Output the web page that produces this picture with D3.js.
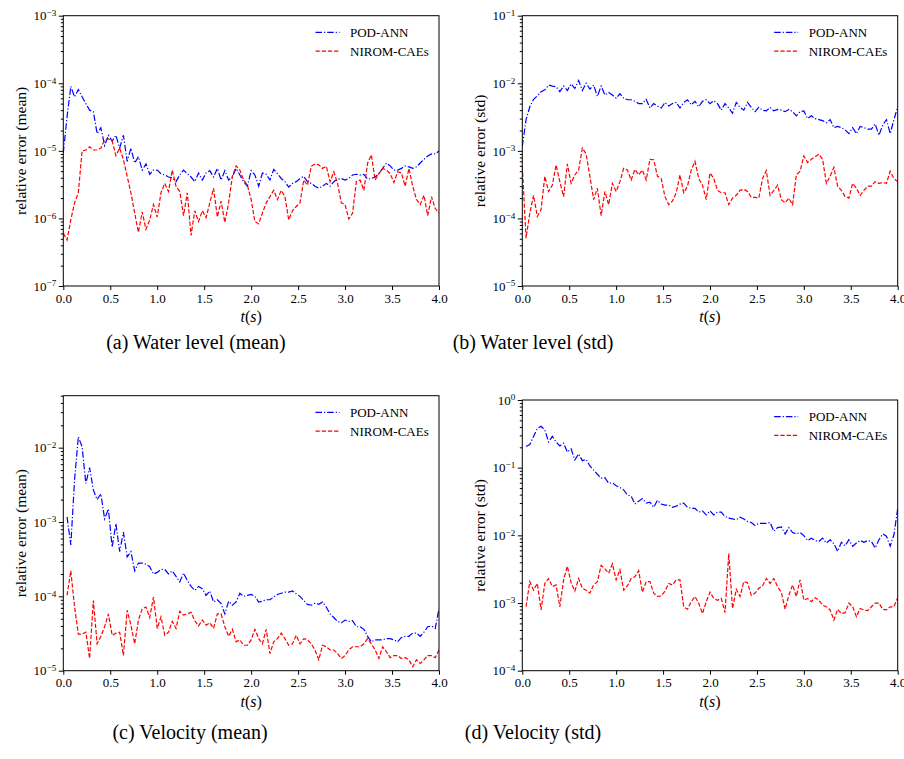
<!DOCTYPE html>
<html><head><meta charset="utf-8">
<title>Relative error, POD-ANN vs NIROM-CAEs</title>
<script src="https://d3js.org/d3.v7.min.js"></script>
<style>
  body { margin: 0; background: #fff; }
  svg text { font-family: "Liberation Serif", serif; fill: #000; }
  .tick line { stroke: #000; }
  .domain { display: none; }
  .frame { fill: none; stroke: #000; stroke-width: 1; }
</style>
</head><body>
<svg id="fig" width="904" height="759"></svg>
<script>
// time samples (s): water level starts at 0, velocity at the first step
const tWater = d3.range(101).map(i => +(i * 0.04).toFixed(2));
const tVel = d3.range(1, 101).map(i => +(i * 0.04).toFixed(2));

const seriesNames = ["POD-ANN", "NIROM-CAEs"];
const xTicks = [0, 0.5, 1, 1.5, 2, 2.5, 3, 3.5, 4];

// (a) water level, mean
const wlMeanPod = [
  9.3e-6, 3.2e-5, 9e-5, 6.3e-5, 8.1e-5, 6.3e-5, 5e-5, 4e-5, 3.8e-5, 1.8e-5,
  2.2e-5, 1.2e-5, 1.7e-5, 1.4e-5, 1.7e-5, 1.1e-5, 1.7e-5, 7e-6, 1.1e-5, 6.6e-6,
  8.2e-6, 5.2e-6, 6.4e-6, 4.5e-6, 5.2e-6, 5.2e-6, 4.6e-6, 4.4e-6, 4.1e-6, 4e-6,
  3.5e-6, 4.4e-6, 5.2e-6, 4.6e-6, 4.1e-6, 3.5e-6, 4.7e-6, 3.7e-6, 4.7e-6, 5.1e-6,
  4.1e-6, 5.5e-6, 3.7e-6, 5.1e-6, 3.7e-6, 4.1e-6, 5.5e-6, 4.4e-6, 3.5e-6, 3e-6,
  5.1e-6, 4.4e-6, 3e-6, 4.7e-6, 4.5e-6, 3.7e-6, 5.3e-6, 4.6e-6, 3.9e-6, 3.5e-6,
  2.9e-6, 3.3e-6, 3.5e-6, 3.9e-6, 4.2e-6, 3.5e-6, 3.3e-6, 3e-6, 2.8e-6, 3e-6,
  3.3e-6, 3e-6, 3.5e-6, 3.8e-6, 3.9e-6, 3.7e-6, 3.9e-6, 4.4e-6, 4.5e-6, 4.4e-6,
  4.5e-6, 3.8e-6, 3.9e-6, 4.1e-6, 4.6e-6, 5.5e-6, 6.6e-6, 6e-6, 5.2e-6, 5.2e-6,
  5.5e-6, 6e-6, 5.8e-6, 5.5e-6, 5.8e-6, 6.6e-6, 7.5e-6, 8.4e-6, 9e-6, 9e-6,
  1e-5];
const wlMeanNirom = [
  6e-7, 4.8e-7, 9.5e-7, 1.7e-6, 2.4e-6, 1e-5, 1.03e-5, 1.15e-5, 1.03e-5, 1.03e-5,
  1.1e-5, 1.45e-5, 1.5e-5, 1.4e-5, 8.5e-6, 1.1e-5, 7.4e-6, 4.2e-6, 2.4e-6, 1.2e-6,
  6.2e-7, 1.25e-6, 6.9e-7, 9.5e-7, 1.6e-6, 1.05e-6, 2.4e-6, 3.3e-6, 2.5e-6, 5.2e-6,
  3e-6, 2.5e-6, 1.1e-6, 2.4e-6, 5.6e-7, 1.3e-6, 9e-7, 1.3e-6, 1.03e-6, 1.7e-6,
  2.8e-6, 1.05e-6, 1.8e-6, 8.7e-7, 1.7e-6, 4.2e-6, 6e-6, 5.2e-6, 3.7e-6, 3.1e-6,
  1.9e-6, 9e-7, 8.3e-7, 1.2e-6, 1.7e-6, 2.1e-6, 2.6e-6, 1.9e-6, 2.6e-6, 2.1e-6,
  9.5e-7, 1.3e-6, 1.5e-6, 1.7e-6, 3.7e-6, 3.1e-6, 5.9e-6, 6.4e-6, 6.2e-6, 5.5e-6,
  5.9e-6, 3.5e-6, 4.9e-6, 3.3e-6, 1.7e-6, 1.6e-6, 9.8e-7, 1.2e-6, 3.5e-6, 3.7e-6,
  2.6e-6, 6.6e-6, 8.7e-6, 3.7e-6, 4.6e-6, 5.5e-6, 5.2e-6, 4.6e-6, 3.4e-6, 4.9e-6,
  4.7e-6, 3e-6, 5.5e-6, 3e-6, 1.9e-6, 1.6e-6, 2.2e-6, 1.1e-6, 2.1e-6, 1.4e-6,
  1.2e-6];

// (b) water level, std
const wlStdPod = [
  1.16e-3, 2.9e-3, 4.5e-3, 5.8e-3, 6.5e-3, 7.5e-3, 8e-3, 9.4e-3, 9.1e-3, 8.9e-3,
  7.5e-3, 9.1e-3, 7.8e-3, 9.8e-3, 8.4e-3, 1.1e-2, 7.8e-3, 1e-2, 8.2e-3, 9.4e-3,
  6.4e-3, 9.1e-3, 6.7e-3, 7.3e-3, 6.7e-3, 6e-3, 7e-3, 6e-3, 5.7e-3, 5.7e-3,
  5.4e-3, 5e-3, 5e-3, 5.8e-3, 4.3e-3, 5e-3, 4.6e-3, 4.3e-3, 5.2e-3, 4.6e-3,
  5e-3, 5.2e-3, 4.3e-3, 5.2e-3, 5.7e-3, 4.8e-3, 5.4e-3, 4.5e-3, 5.4e-3, 5.7e-3,
  5e-3, 5.5e-3, 5e-3, 4e-3, 5e-3, 4.3e-3, 3.6e-3, 5.2e-3, 4.4e-3, 4e-3,
  5.2e-3, 4.4e-3, 3.8e-3, 4.4e-3, 4e-3, 3.9e-3, 4.4e-3, 3.9e-3, 4.1e-3, 4e-3,
  3.8e-3, 4.1e-3, 3.8e-3, 3.3e-3, 3.8e-3, 3.9e-3, 3e-3, 3.3e-3, 3e-3, 2.9e-3,
  2.8e-3, 2.6e-3, 2.9e-3, 2.2e-3, 2.3e-3, 2.2e-3, 2.05e-3, 1.8e-3, 2.2e-3, 1.8e-3,
  2.3e-3, 2.2e-3, 2.1e-3, 2.1e-3, 2.5e-3, 1.7e-3, 2.4e-3, 2.9e-3, 1.8e-3, 2.9e-3,
  4.5e-3];
const wlStdNirom = [
  5.9e-4, 5.1e-5, 1.2e-4, 2.2e-4, 1.07e-4, 1.35e-4, 4.2e-4, 2.5e-4, 3.1e-4, 6.2e-4,
  3.5e-4, 2.1e-4, 6.4e-4, 3.3e-4, 4.4e-4, 5.2e-4, 1.1e-3, 9e-4, 4.2e-4, 1.9e-4,
  2.8e-4, 1.1e-4, 2.5e-4, 1.6e-4, 3.3e-4, 2.5e-4, 3.5e-4, 5.5e-4, 5.2e-4, 3.7e-4,
  5.3e-4, 4.4e-4, 5.2e-4, 3.7e-4, 7.5e-4, 7.4e-4, 4.2e-4, 3.9e-4, 2.1e-4, 1.6e-4,
  1.8e-4, 2.4e-4, 4.4e-4, 2.4e-4, 3e-4, 5.2e-4, 7e-4, 3.9e-4, 3.1e-4, 1.9e-4,
  4.7e-4, 3.9e-4, 2.6e-4, 2.4e-4, 2.4e-4, 1.6e-4, 2e-4, 2.2e-4, 2.6e-4, 2.7e-4,
  2.5e-4, 2.05e-4, 2.05e-4, 2e-4, 3.9e-4, 5.1e-4, 2.2e-4, 2.6e-4, 3.1e-4, 1.9e-4,
  1.7e-4, 2e-4, 1.6e-4, 4.4e-4, 5e-4, 8.4e-4, 6.7e-4, 7.5e-4, 8.2e-4, 8.9e-4,
  7.5e-4, 3.3e-4, 4.2e-4, 5.7e-4, 3e-4, 2.6e-4, 2.1e-4, 2e-4, 3.3e-4, 2.8e-4,
  2.2e-4, 2.6e-4, 3e-4, 3e-4, 3.5e-4, 3.3e-4, 3.4e-4, 3.3e-4, 5e-4, 3.9e-4,
  3.5e-4];

// (c) velocity, mean
const velMeanPod = [
  1.17e-3, 4.9e-4, 3.7e-3, 1.4e-2, 1.03e-2, 3.3e-3, 5.4e-3, 2.7e-3, 2e-3, 2.4e-3,
  1.1e-3, 1.5e-3, 4.6e-4, 9.5e-4, 4e-4, 7.3e-4, 3.4e-4, 4e-4, 2.2e-4, 2.8e-4,
  2.8e-4, 2.7e-4, 2.5e-4, 2e-4, 2.1e-4, 2.3e-4, 2.3e-4, 2e-4, 2.2e-4, 1.86e-4,
  1.56e-4, 2.06e-4, 1.64e-4, 1.36e-4, 1.2e-4, 1.36e-4, 1.27e-4, 1.03e-4, 1.18e-4, 8.4e-5,
  9e-5, 8e-5, 5.8e-5, 8.6e-5, 7.6e-5, 8.4e-5, 1.1e-4, 1e-4, 1.03e-4, 1.06e-4,
  1e-4, 8.4e-5, 8.6e-5, 9e-5, 9e-5, 9.8e-5, 1.06e-4, 1.1e-4, 1.14e-4, 1.14e-4,
  1.18e-4, 1.08e-4, 1e-4, 8.8e-5, 7.8e-5, 7.6e-5, 8.1e-5, 7.8e-5, 8.4e-5, 7.2e-5,
  5.8e-5, 5.2e-5, 4.6e-5, 4.4e-5, 4.8e-5, 4.6e-5, 4.7e-5, 3.9e-5, 3.9e-5, 3.6e-5,
  2.9e-5, 2.45e-5, 2.6e-5, 2.6e-5, 2.6e-5, 2.7e-5, 2.7e-5, 2.6e-5, 2.45e-5, 2.8e-5,
  2.9e-5, 2.9e-5, 3.2e-5, 3.2e-5, 2.9e-5, 3.3e-5, 3.9e-5, 4e-5, 3.7e-5, 6.8e-5];
const velMeanNirom = [
  1.03e-4, 2.2e-4, 7.2e-5, 3.1e-5, 3.1e-5, 3.3e-5, 1.46e-5, 8.8e-5, 2.3e-5, 2.9e-5,
  3.9e-5, 5.8e-5, 3e-5, 3.2e-5, 3.3e-5, 1.6e-5, 6.5e-5, 4.1e-5, 2.3e-5, 4.8e-5,
  6.8e-5, 7.2e-5, 5.2e-5, 9.8e-5, 3.7e-5, 5.3e-5, 3e-5, 3.3e-5, 4.6e-5, 3.7e-5,
  6.3e-5, 5.6e-5, 5.8e-5, 6.1e-5, 4.7e-5, 4e-5, 4.8e-5, 4.1e-5, 4.4e-5, 3.7e-5,
  5.8e-5, 5.8e-5, 3.9e-5, 2.9e-5, 3.6e-5, 2.45e-5, 2.6e-5, 2.2e-5, 2.2e-5, 2.6e-5,
  3.6e-5, 2.7e-5, 2.3e-5, 3.6e-5, 1.7e-5, 2.45e-5, 2.7e-5, 3.2e-5, 2.7e-5, 2.2e-5,
  2.3e-5, 3e-5, 2.3e-5, 2.7e-5, 2.6e-5, 2.3e-5, 1.9e-5, 1.4e-5, 2.2e-5, 2.1e-5,
  1.9e-5, 1.9e-5, 1.7e-5, 1.46e-5, 1.6e-5, 1.9e-5, 2.1e-5, 2.1e-5, 2.1e-5, 2.3e-5,
  2.7e-5, 2.3e-5, 1.9e-5, 1.46e-5, 2.1e-5, 1.8e-5, 1.5e-5, 1.6e-5, 1.6e-5, 1.46e-5,
  1.5e-5, 1.4e-5, 1.13e-5, 1.4e-5, 1.25e-5, 1.4e-5, 1.6e-5, 1.6e-5, 1.5e-5, 1.9e-5];

// (d) velocity, std
const velStdPod = [
  2.05e-1, 2.2e-1, 2.9e-1, 3.8e-1, 4.1e-1, 3.6e-1, 2.4e-1, 2.9e-1, 2.4e-1, 2.1e-1,
  2.3e-1, 1.7e-1, 1.9e-1, 1.3e-1, 1.6e-1, 1.27e-1, 1.33e-1, 1.06e-1, 9.2e-2, 8e-2,
  7e-2, 7.1e-2, 5.9e-2, 6e-2, 5.4e-2, 5.1e-2, 4.7e-2, 3.95e-2, 3.8e-2, 2.9e-2,
  3.2e-2, 3.5e-2, 3e-2, 3.1e-2, 2.6e-2, 3.3e-2, 2.9e-2, 2.8e-2, 2.8e-2, 2.6e-2,
  2.7e-2, 2.9e-2, 3e-2, 2.6e-2, 2.5e-2, 2.5e-2, 2.2e-2, 2.3e-2, 2e-2, 2.3e-2,
  2e-2, 2.2e-2, 2.2e-2, 1.9e-2, 1.8e-2, 1.75e-2, 1.7e-2, 1.85e-2, 1.75e-2, 1.6e-2,
  1.55e-2, 1.4e-2, 1.5e-2, 1.5e-2, 1.5e-2, 1.55e-2, 1.15e-2, 1.3e-2, 1.33e-2, 1.05e-2,
  1.3e-2, 1.1e-2, 1.05e-2, 1.1e-2, 9.9e-3, 8.4e-3, 9.1e-3, 8.4e-3, 8.1e-3, 9.1e-3,
  7.7e-3, 8.6e-3, 7.5e-3, 5.8e-3, 7.9e-3, 7e-3, 8.6e-3, 6.9e-3, 7.7e-3, 8.4e-3,
  7.9e-3, 8.4e-3, 8.1e-3, 6.5e-3, 8.6e-3, 1.05e-2, 9.7e-3, 6.9e-3, 1.02e-2, 2.5e-2];
const velStdNirom = [
  8.8e-4, 2.07e-3, 1.55e-3, 1.95e-3, 7.9e-4, 1.95e-3, 2.3e-3, 1.75e-3, 1.85e-3, 8.8e-4,
  2.2e-3, 3.5e-3, 2e-3, 1.5e-3, 2.3e-3, 1.65e-3, 1.55e-3, 1.4e-3, 1.85e-3, 2.07e-3,
  3.6e-3, 3.2e-3, 2.75e-3, 3.8e-3, 2.2e-3, 3.1e-3, 1.55e-3, 1.8e-3, 2.3e-3, 2.45e-3,
  3e-3, 1.45e-3, 2.07e-3, 2.07e-3, 1.4e-3, 1.25e-3, 1.27e-3, 1.5e-3, 1.95e-3, 1.85e-3,
  2.2e-3, 2.2e-3, 8.8e-4, 8.1e-4, 1.05e-3, 1.25e-3, 9.9e-4, 7e-4, 1.05e-3, 1.45e-3,
  1.17e-3, 1.1e-3, 1.17e-3, 7.2e-4, 5.4e-3, 8.3e-4, 1.6e-3, 1.25e-3, 2.07e-3, 2e-3,
  1.3e-3, 1.4e-3, 1.65e-3, 1.8e-3, 2.3e-3, 1.95e-3, 2.3e-3, 1.75e-3, 1.45e-3, 8.1e-4,
  1.3e-3, 1.85e-3, 1.25e-3, 2.2e-3, 1.1e-3, 1.17e-3, 1.05e-3, 1.2e-3, 1.1e-3, 9.3e-4,
  8.8e-4, 7.9e-4, 5.6e-4, 8.1e-4, 7e-4, 7.2e-4, 1e-3, 8.8e-4, 6.3e-4, 8.3e-4,
  7.9e-4, 7.7e-4, 8.8e-4, 1e-3, 1e-3, 8.1e-4, 7.9e-4, 8.8e-4, 8.8e-4, 1.2e-3];

const panels = [
  { t: tWater, pod: wlMeanPod, nirom: wlMeanNirom, yDomain: [1e-7, 1e-3],
    ylabel: "relative error (mean)", caption: "(a) Water level (mean)",
    box: { left: 63.3, right: 439, top: 15.7, bottom: 286 }, capX: 196, capY: 349 },
  { t: tWater, pod: wlStdPod, nirom: wlStdNirom, yDomain: [1e-5, 1e-1],
    ylabel: "relative error (std)", caption: "(b) Water level (std)",
    box: { left: 522.3, right: 897.7, top: 15.7, bottom: 286 }, capX: 533, capY: 349 },
  { t: tVel, pod: velMeanPod, nirom: velMeanNirom, yDomain: [1e-5, 0.05],
    ylabel: "relative error (mean)", caption: "(c) Velocity (mean)",
    box: { left: 63.3, right: 439, top: 395.7, bottom: 670.7 }, capX: 190, capY: 739 },
  { t: tVel, pod: velStdPod, nirom: velStdNirom, yDomain: [1e-4, 1],
    ylabel: "relative error (std)", caption: "(d) Velocity (std)",
    box: { left: 522.3, right: 897.7, top: 400, bottom: 670.7 }, capX: 533, capY: 739 }
];

const styles = [
  { color: "#0000ff", dash: "6.5,2,1.2,2" },  // dash-dot
  { color: "#ff0000", dash: "4.3,1.9" }       // dashed
];

const svg = d3.select("#fig");

panels.forEach((p, pi) => {
  const b = p.box;
  const w = b.right - b.left, h = b.bottom - b.top;
  const g = svg.append("g").attr("transform", "translate(" + b.left + "," + b.top + ")");

  const x = d3.scaleLinear().domain([0, 4]).range([0, w]);
  const y = d3.scaleLog().domain(p.yDomain).range([h, 0]);

  // major decades and minor 2..9 ticks
  const eLo = Math.ceil(Math.log10(p.yDomain[0]) - 1e-9);
  const eHi = Math.floor(Math.log10(p.yDomain[1]) + 1e-9);
  const decades = d3.range(eLo, eHi + 1);
  const minors = [];
  d3.range(eLo - 1, eHi + 1).forEach(e => {
    for (let m = 2; m <= 9; m++) {
      const v = m * Math.pow(10, e);
      if (v > p.yDomain[0] && v < p.yDomain[1] * 1.0001) minors.push(v);
    }
  });

  g.append("g").attr("class", "y minor")
    .call(d3.axisLeft(y).tickValues(minors).tickSize(2.5).tickFormat(""));

  const yAx = g.append("g").attr("class", "y axis")
    .call(d3.axisLeft(y).tickValues(decades.map(e => Math.pow(10, e)))
      .tickSize(4.5).tickPadding(2.5).tickFormat(""));
  yAx.selectAll(".tick text").data(decades).each(function(e) {
    const t = d3.select(this).attr("font-size", 13);
    t.append("tspan").text("10");
    t.append("tspan").attr("dy", "-0.48em").attr("font-size", "0.7em")
      .text(e < 0 ? "\u2212" + (-e) : String(e));
  });

  g.append("g").attr("class", "x axis")
    .attr("transform", "translate(0," + h + ")")
    .call(d3.axisBottom(x).tickValues(xTicks).tickSize(4).tickPadding(3.5)
      .tickFormat(d3.format(".1f")))
    .selectAll("text").attr("font-size", 13);

  // lines
  const clipId = "clip" + pi;
  g.append("clipPath").attr("id", clipId).append("rect").attr("width", w).attr("height", h);
  const line = d3.line().x(d => x(d[0])).y(d => y(d[1]));
  [p.pod, p.nirom].forEach((vals, si) => {
    g.append("path")
      .datum(vals.map((v, i) => [p.t[i], v]))
      .attr("clip-path", "url(#" + clipId + ")")
      .attr("fill", "none")
      .attr("stroke", styles[si].color)
      .attr("stroke-width", 1.2)
      .attr("stroke-dasharray", styles[si].dash)
      .attr("d", line);
  });

  g.append("rect").attr("class", "frame").attr("width", w).attr("height", h);

  // legend
  const lg = g.append("g").attr("transform", "translate(" + (w - 123.5) + ",16.6)");
  seriesNames.forEach((name, si) => {
    const row = lg.append("g").attr("transform", "translate(0," + (si * 18.8) + ")");
    row.append("line").attr("x1", 0).attr("x2", 24).attr("y1", 0).attr("y2", 0)
      .attr("stroke", styles[si].color).attr("stroke-width", 1.2)
      .attr("stroke-dasharray", styles[si].dash);
    row.append("text").attr("x", 34.5).attr("dy", "0.35em").attr("font-size", 13).text(name);
  });

  // axis labels
  g.append("text")
    .attr("transform", "translate(" + (-43) + "," + (h / 2) + ") rotate(-90)")
    .attr("text-anchor", "middle").attr("dy", "0.35em").attr("font-size", 15.5)
    .text(p.ylabel);

  const xl = g.append("text").attr("x", w / 2).attr("y", h + 36)
    .attr("text-anchor", "middle").attr("font-size", 16);
  xl.append("tspan").attr("font-style", "italic").text("t");
  xl.append("tspan").text("(");
  xl.append("tspan").attr("font-style", "italic").text("s");
  xl.append("tspan").text(")");

  // caption
  svg.append("text").attr("x", p.capX).attr("y", p.capY)
    .attr("text-anchor", "middle").attr("font-size", 20).text(p.caption);
});
</script>
</body></html>
